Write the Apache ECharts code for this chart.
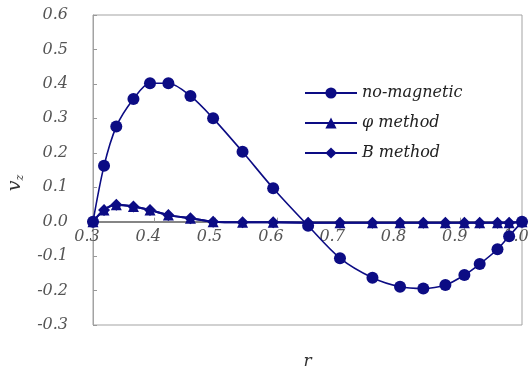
<!DOCTYPE html>
<html>
<head>
<meta charset="utf-8">
<script src="https://cdn.jsdelivr.net/npm/echarts@6/dist/echarts.min.js"></script>
<style>
  html, body { margin: 0; padding: 0; background: #fff; }
  #chart { width: 532px; height: 372px; }
</style>
</head>
<body>
<div id="chart"></div>
<script>
// Radial positions r shared by all three profiles
const rValues = [0.300, 0.318, 0.338, 0.366, 0.393, 0.423, 0.459, 0.496, 0.544, 0.594,
                 0.651, 0.703, 0.756, 0.801, 0.839, 0.875, 0.906, 0.931, 0.960, 0.979, 1.000];
// Axial velocity v_z without magnetic field
const noMagnetic = [0.000, 0.162, 0.276, 0.356, 0.402, 0.402, 0.365, 0.300, 0.203, 0.097,
                    -0.012, -0.106, -0.163, -0.189, -0.194, -0.184, -0.155, -0.123, -0.080, -0.042, 0.000];
// Axial velocity from the potential (phi) formulation
const phiMethod = [0.000, 0.034, 0.049, 0.044, 0.034, 0.019, 0.010, 0.000, -0.002, -0.002,
                   -0.003, -0.003, -0.003, -0.003, -0.003, -0.003, -0.003, -0.003, -0.003, -0.003, 0.000];
// Axial velocity from the induction (B) formulation
const bMethod = [0.000, 0.034, 0.049, 0.044, 0.034, 0.019, 0.010, 0.000, -0.002, -0.002,
                 -0.003, -0.003, -0.003, -0.003, -0.003, -0.003, -0.003, -0.003, -0.003, -0.003, 0.000];
const seriesNames = ['no-magnetic', '\u03c6 method', 'B method'];

const Y_MIN = -0.3, Y_MAX = 0.6;
const GRID = { left: 93, right: 10, top: 15, bottom: 47 };
const CHART_H = 372;

const pairs = (ys) => rValues.map((r, i) => [r, ys[i]]);
const navy = '#0c0c84';
const font = 'DejaVu Serif';

// The r axis crosses the v_z axis at 0: lift it from the grid bottom to that level.
const plotH = CHART_H - GRID.top - GRID.bottom;
const zeroLift = plotH * (0 - Y_MIN) / (Y_MAX - Y_MIN);

const chart = echarts.init(document.getElementById('chart'), null, { renderer: 'canvas' });
chart.setOption({
  animation: false,
  backgroundColor: '#ffffff',
  grid: {
    left: GRID.left, right: GRID.right, top: GRID.top, bottom: GRID.bottom,
    containLabel: false,
    outerBoundsMode: 'none',
    show: true, borderColor: '#a3a3a3', borderWidth: 1
  },
  legend: {
    data: seriesNames,
    orient: 'vertical',
    left: 299, top: 80,
    itemWidth: 52, itemHeight: 14, itemGap: 14,
    textStyle: { fontFamily: font, fontStyle: 'italic', fontSize: 16, color: '#222' }
  },
  xAxis: {
    type: 'value',
    position: 'bottom',
    offset: -zeroLift,
    min: 0.3, max: 1.0, interval: 0.1,
    name: 'r',
    nameLocation: 'middle',
    nameGap: 131,
    nameTextStyle: { fontFamily: font, fontStyle: 'italic', fontSize: 17, color: '#333' },
    axisLine: { onZero: false, lineStyle: { color: '#858585', width: 2 } },
    axisTick: { show: true, inside: true, length: 4, lineStyle: { color: '#999' } },
    splitLine: { show: false },
    axisLabel: {
      margin: 7,
      fontFamily: font, fontStyle: 'italic', fontSize: 16, color: '#555',
      padding: [0, 12, 0, 0],
      formatter: (v) => v.toFixed(1)
    }
  },
  yAxis: {
    type: 'value',
    min: Y_MIN, max: Y_MAX, interval: 0.1,
    name: '{v|v}{z|z}',
    nameLocation: 'middle',
    nameRotate: 90,
    nameGap: 67,
    nameTextStyle: {
      padding: [0, 26, 0, 0],
      rich: {
        v: { fontFamily: font, fontStyle: 'italic', fontSize: 19, color: '#333', lineHeight: 22 },
        z: { fontFamily: font, fontStyle: 'italic', fontSize: 11, color: '#333', lineHeight: 22,
             verticalAlign: 'bottom', padding: [8, 0, 0, 0] }
      }
    },
    axisLine: { show: true, onZero: false, lineStyle: { color: '#a3a3a3' } },
    axisTick: { show: true, inside: true, length: 4, lineStyle: { color: '#999' } },
    splitLine: { show: false },
    axisLabel: {
      margin: 25,
      fontFamily: font, fontStyle: 'italic', fontSize: 16, color: '#555',
      formatter: (v) => v.toFixed(1)
    }
  },
  series: [
    {
      name: seriesNames[2],
      type: 'line',
      data: pairs(bMethod),
      smooth: 0.3,
      symbol: 'diamond', symbolSize: 12,
      lineStyle: { color: navy, width: 2 },
      itemStyle: { color: navy },
      z: 2
    },
    {
      name: seriesNames[1],
      type: 'line',
      data: pairs(phiMethod),
      smooth: 0.3,
      symbol: 'triangle', symbolSize: 11,
      lineStyle: { color: navy, width: 2 },
      itemStyle: { color: navy },
      z: 3
    },
    {
      name: seriesNames[0],
      type: 'line',
      data: pairs(noMagnetic),
      smooth: 0.3,
      symbol: 'circle', symbolSize: 12,
      lineStyle: { color: navy, width: 1.6 },
      itemStyle: { color: navy },
      z: 4
    }
  ]
});
</script>
</body>
</html>
